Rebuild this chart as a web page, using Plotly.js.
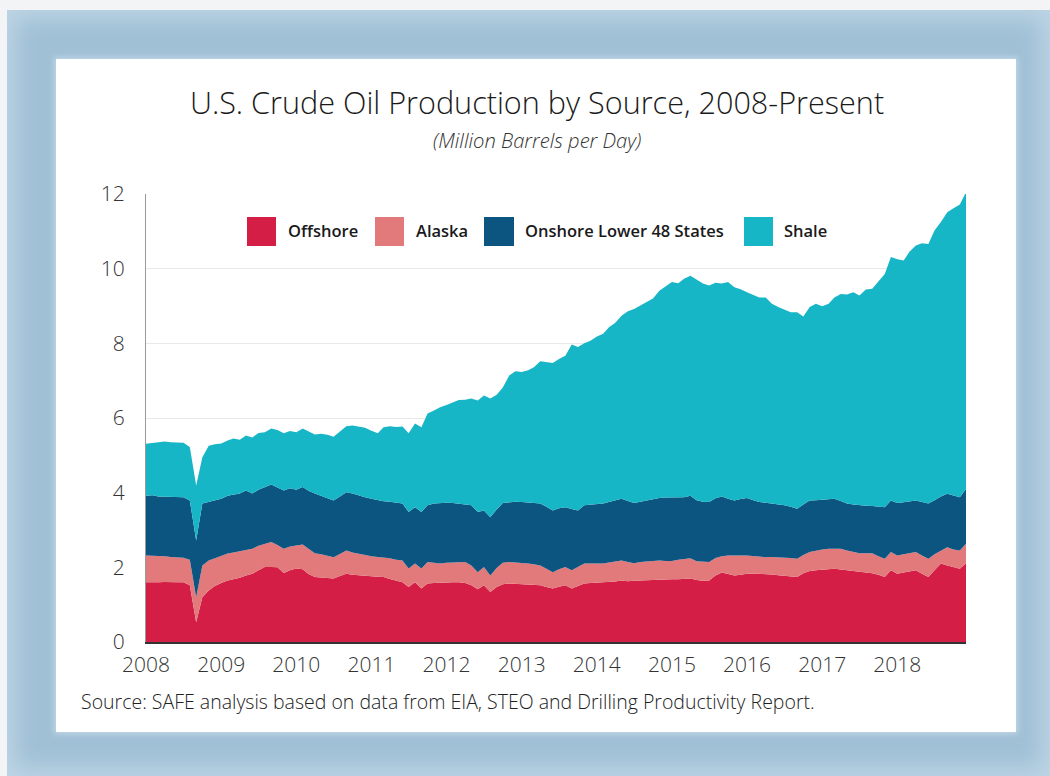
<!DOCTYPE html>
<html>
<head>
<meta charset="utf-8">
<script src="https://cdn.plot.ly/plotly-3.0.1.min.js"></script>
<style>
  html, body { margin: 0; padding: 0; width: 1050px; height: 776px; overflow: hidden; background: #f3f4f6; }
  #frame { position: absolute; left: 7px; top: 10px; width: 1043px; height: 766px;
           background: #a0c0d6; box-shadow: inset 0 0 22px 8px #bed5e5; }
  #panel { position: absolute; left: 56px; top: 59px; width: 960px; height: 673px; background: #ffffff;
           box-shadow: 0 0 6px 2px rgba(200,220,235,0.8); }
  #chart { position: absolute; left: 0; top: 0; width: 1050px; height: 776px; }
</style>
</head>
<body>
<div id="frame"></div>
<div id="panel"></div>
<div id="chart"></div>
<script>
// Series names and colours
const seriesNames = ["Offshore", "Alaska", "Onshore Lower 48 States", "Shale"];
const seriesColors = ["#d41e45", "#e27a7c", "#0c5580", "#17b6c6"];

const offshoreTop = [1.60,1.59,1.60,1.61,1.60,1.60,1.60,1.52,0.53,1.20,1.38,1.50,
 1.58,1.65,1.68,1.72,1.78,1.83,1.92,2.01,2.01,2.00,1.85,1.92,
 1.97,1.95,1.82,1.74,1.73,1.72,1.70,1.77,1.83,1.80,1.78,1.77,
 1.76,1.75,1.74,1.69,1.64,1.60,1.47,1.60,1.43,1.57,1.58,1.59,
 1.60,1.60,1.60,1.58,1.52,1.41,1.52,1.34,1.47,1.55,1.57,1.56,
 1.55,1.54,1.53,1.52,1.47,1.43,1.48,1.52,1.43,1.50,1.57,1.58,
 1.59,1.60,1.60,1.62,1.65,1.63,1.64,1.65,1.65,1.65,1.66,1.67,
 1.68,1.68,1.69,1.70,1.66,1.64,1.65,1.78,1.86,1.82,1.78,1.80,
 1.83,1.83,1.83,1.83,1.81,1.79,1.78,1.76,1.74,1.84,1.90,1.92,
 1.94,1.95,1.96,1.94,1.92,1.90,1.88,1.87,1.84,1.80,1.74,1.92,
 1.83,1.86,1.89,1.92,1.83,1.74,1.92,2.10,2.05,2.00,1.96,2.11];

const alaskaTop = [2.32,2.32,2.31,2.30,2.28,2.27,2.26,2.20,1.20,2.05,2.18,2.24,
 2.30,2.37,2.40,2.44,2.48,2.50,2.58,2.63,2.68,2.60,2.50,2.56,
 2.58,2.61,2.50,2.38,2.35,2.30,2.27,2.36,2.45,2.40,2.36,2.32,
 2.30,2.28,2.27,2.24,2.20,2.18,1.97,2.10,1.97,2.14,2.12,2.10,
 2.12,2.13,2.14,2.14,2.05,1.87,2.01,1.78,1.98,2.12,2.14,2.13,
 2.12,2.10,2.08,2.05,1.96,1.87,1.95,2.01,1.92,2.02,2.10,2.10,
 2.10,2.10,2.13,2.16,2.18,2.14,2.11,2.14,2.16,2.18,2.18,2.17,
 2.17,2.20,2.22,2.24,2.16,2.15,2.14,2.25,2.30,2.32,2.31,2.32,
 2.32,2.30,2.28,2.27,2.28,2.27,2.27,2.25,2.23,2.33,2.41,2.45,
 2.48,2.50,2.50,2.50,2.45,2.42,2.38,2.38,2.38,2.30,2.23,2.41,
 2.32,2.35,2.38,2.41,2.32,2.23,2.35,2.45,2.54,2.48,2.45,2.63];

const onshoreTop = [3.92,3.93,3.90,3.90,3.89,3.88,3.88,3.79,2.72,3.71,3.75,3.79,
 3.84,3.92,3.95,3.98,4.06,3.98,4.08,4.15,4.22,4.14,4.06,4.12,
 4.08,4.15,4.05,3.98,3.92,3.85,3.79,3.90,4.01,3.98,3.92,3.88,
 3.84,3.80,3.77,3.76,3.73,3.71,3.48,3.61,3.48,3.66,3.71,3.72,
 3.73,3.72,3.70,3.68,3.66,3.48,3.52,3.34,3.55,3.72,3.75,3.76,
 3.75,3.74,3.72,3.71,3.62,3.52,3.58,3.61,3.56,3.52,3.66,3.68,
 3.70,3.71,3.75,3.80,3.84,3.78,3.72,3.76,3.80,3.84,3.86,3.87,
 3.88,3.87,3.88,3.92,3.80,3.76,3.75,3.85,3.90,3.84,3.79,3.83,
 3.86,3.80,3.75,3.73,3.71,3.68,3.66,3.62,3.57,3.68,3.79,3.80,
 3.82,3.83,3.84,3.78,3.71,3.68,3.66,3.65,3.64,3.63,3.61,3.79,
 3.72,3.74,3.77,3.79,3.75,3.71,3.80,3.90,3.97,3.92,3.88,4.10];

const totalTop = [5.31,5.33,5.35,5.37,5.35,5.34,5.34,5.22,4.19,4.95,5.26,5.30,
 5.32,5.40,5.45,5.42,5.53,5.48,5.60,5.62,5.72,5.68,5.59,5.65,
 5.62,5.72,5.65,5.56,5.58,5.55,5.50,5.65,5.78,5.80,5.76,5.74,
 5.66,5.59,5.75,5.78,5.76,5.77,5.59,5.85,5.75,6.12,6.20,6.29,
 6.35,6.42,6.48,6.49,6.52,6.47,6.60,6.52,6.62,6.82,7.14,7.25,
 7.23,7.28,7.36,7.52,7.50,7.47,7.58,7.67,7.97,7.90,8.00,8.07,
 8.18,8.26,8.43,8.55,8.74,8.86,8.92,9.01,9.10,9.20,9.41,9.52,
 9.64,9.61,9.73,9.81,9.70,9.60,9.55,9.62,9.60,9.64,9.50,9.45,
 9.37,9.30,9.23,9.23,9.06,8.97,8.90,8.83,8.83,8.72,8.97,9.06,
 8.99,9.06,9.23,9.32,9.31,9.37,9.28,9.44,9.46,9.65,9.86,10.31,
 10.25,10.22,10.45,10.62,10.68,10.66,11.02,11.25,11.51,11.62,11.72,12.05];

const yTicks = [0, 2, 4, 6, 8, 10, 12];
const subtitle = "(Million Barrels per Day)";
const titleText = "U.S. Crude Oil Production by Source, 2008-Present";
const sourceText = "Source: SAFE analysis based on data from EIA, STEO and Drilling Productivity Report.";

// month dates
const months = [];
for (let y = 2008; y <= 2018; y++) {
  for (let m = 1; m <= 12; m++) months.push(y + "-" + String(m).padStart(2, "0") + "-01");
}

const r2 = v => Math.round(v * 100) / 100;
const offshore = offshoreTop.slice();
const alaska = alaskaTop.map((v, i) => r2(v - offshoreTop[i]));
const onshore = onshoreTop.map((v, i) => r2(v - alaskaTop[i]));
const shale = totalTop.map((v, i) => r2(v - onshoreTop[i]));
const seriesValues = [offshore, alaska, onshore, shale];

const traces = seriesValues.map((vals, i) => ({
  type: "scatter", mode: "lines", x: months, y: vals, name: seriesNames[i],
  stackgroup: "one", line: { width: 0, color: seriesColors[i] },
  fillcolor: seriesColors[i], showlegend: false
}));

const FONT = "'Open Sans', 'Noto Sans', sans-serif";

// plot-area geometry (px) for the custom legend
const L = 146, R = 966, T = 194, B = 642;
const px = x => (x - L) / (R - L);
const py = y => (B - y) / (B - T);
const legendSquares = [[247, 276], [375, 404], [484, 514], [744, 773]];
const legendTextX = [286, 414, 523, 782];

const shapes = legendSquares.map((s, i) => ({
  type: "rect", xref: "paper", yref: "paper",
  x0: px(s[0]), x1: px(s[1]), y0: py(246), y1: py(217),
  fillcolor: seriesColors[i], line: { width: 0 }, layer: "above"
}));

const annotations = seriesNames.map((n, i) => ({
  text: n, xref: "paper", yref: "paper", x: px(legendTextX[i]), y: py(230),
  xanchor: "left", yanchor: "middle", showarrow: false,
  font: { family: FONT, size: 16.5, color: "#1a1a1a", weight: 600 }
}));
annotations.push({
  text: "<i>" + subtitle + "</i>", xref: "paper", yref: "paper", x: px(537), y: py(140),
  xanchor: "center", yanchor: "middle", showarrow: false,
  font: { family: FONT, size: 20.2, color: "#333333", weight: 300 }
});
annotations.push({
  text: sourceText, xref: "paper", yref: "paper", x: px(79), y: py(701),
  xanchor: "left", yanchor: "middle", showarrow: false,
  font: { family: FONT, size: 19.5, color: "#222222", weight: 300 }
});

const layout = {
  width: 1050, height: 776,
  margin: { l: L, r: 1050 - R, t: T, b: 776 - B, pad: 0 },
  paper_bgcolor: "rgba(0,0,0,0)", plot_bgcolor: "rgba(0,0,0,0)",
  title: { text: titleText, x: 537 / 1050, xref: "container", y: 1 - 103 / 776, yref: "container",
           xanchor: "center", yanchor: "middle",
           font: { family: FONT, size: 30.6, color: "#1a1a1a", weight: 300 } },
  xaxis: {
    type: "date", range: ["2008-01-01", "2018-12-01"], tickformat: "%Y", dtick: "M12",
    tick0: "2008-01-01", showgrid: false, zeroline: false, showline: true,
    linecolor: "#333333", linewidth: 2, ticks: "",
    tickfont: { family: FONT, size: 21, color: "#333333", weight: 300 }, ticklabelstandoff: 3
  },
  yaxis: {
    range: [0, 12], tickvals: yTicks, showgrid: true, gridcolor: "#e8e8e8", gridwidth: 1,
    zeroline: false, showline: true, linecolor: "#999999", linewidth: 1, ticks: "",
    tickfont: { family: FONT, size: 21, color: "#333333", weight: 300 }, ticklabelstandoff: 16
  },
  shapes: shapes,
  annotations: annotations
};

Plotly.newPlot("chart", traces, layout, { displayModeBar: false, staticPlot: true });
</script>
</body>
</html>
